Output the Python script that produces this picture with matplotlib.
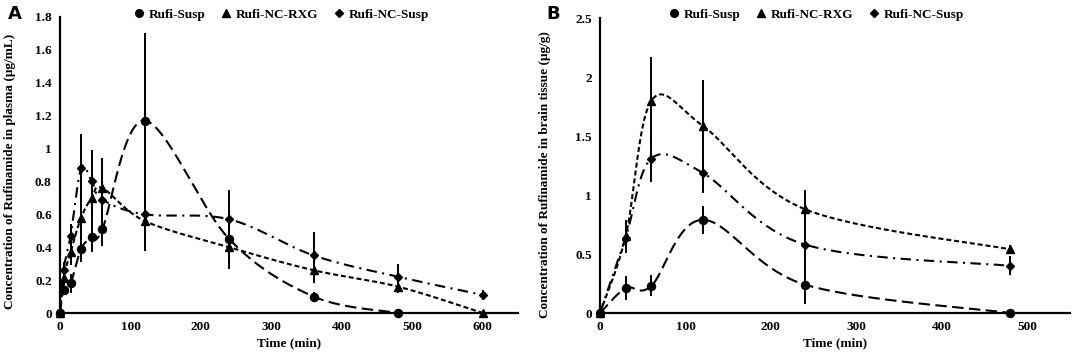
import numpy as np
import matplotlib
matplotlib.use("Agg")
import matplotlib.pyplot as plt
from matplotlib.lines import Line2D

# ---------------- data ----------------
series_names = ["Rufi-Susp", "Rufi-NC-RXG", "Rufi-NC-Susp"]

# Panel A: plasma
a_susp_t = [0, 5, 15, 30, 45, 60, 120, 240, 360, 480]
a_susp_y = [0, 0.14, 0.18, 0.39, 0.46, 0.51, 1.17, 0.45, 0.10, 0]
a_susp_e = [0, 0.03, 0.06, 0.08, 0.09, 0.10, 0.53, 0.18, 0.03, 0]

a_rxg_t = [0, 5, 15, 30, 45, 60, 120, 240, 360, 480, 600]
a_rxg_y = [0, 0.21, 0.37, 0.58, 0.70, 0.76, 0.56, 0.40, 0.26, 0.16, 0]
a_rxg_e = [0, 0.05, 0.08, 0.20, 0.15, 0.18, 0.18, 0.10, 0.08, 0.04, 0]

a_ncs_t = [0, 5, 15, 30, 45, 60, 120, 240, 360, 480, 600]
a_ncs_y = [0, 0.26, 0.47, 0.88, 0.80, 0.69, 0.60, 0.57, 0.35, 0.22, 0.11]
a_ncs_e = [0, 0.05, 0.07, 0.21, 0.19, 0.15, 0.15, 0.18, 0.14, 0.08, 0.03]

# Panel B: brain tissue
b_t = [0, 30, 60, 120, 240, 480]
b_susp_y = [0, 0.21, 0.23, 0.79, 0.24, 0]
b_susp_e = [0, 0.10, 0.09, 0.12, 0.16, 0]
b_rxg_y = [0, 0.65, 1.80, 1.59, 0.88, 0.54]
b_rxg_e = [0, 0.14, 0.37, 0.39, 0.16, 0.04]
b_ncs_y = [0, 0.64, 1.31, 1.19, 0.58, 0.40]
b_ncs_e = [0, 0.10, 0.20, 0.17, 0.20, 0.08]

a_yticks = [0, 0.2, 0.4, 0.6, 0.8, 1, 1.2, 1.4, 1.6, 1.8]
a_xticks = [0, 100, 200, 300, 400, 500, 600]
b_yticks = [0, 0.5, 1, 1.5, 2, 2.5]
b_xticks = [0, 100, 200, 300, 400, 500]

# ---------------- helpers ----------------
def smooth(x, y, n=40):
    """Catmull-Rom style Bezier smoothing through the points (like Excel smoothed lines)."""
    P = np.column_stack([np.asarray(x, float), np.asarray(y, float)])
    m = len(P)
    out = [P[0]]
    s = np.linspace(0, 1, n)[1:]
    for i in range(m - 1):
        p0 = P[i - 1] if i > 0 else P[i]
        p1 = P[i]
        p2 = P[i + 1]
        p3 = P[i + 2] if i + 2 < m else P[i + 1]
        c1 = p1 + (p2 - p0) / 6.0
        c2 = p2 - (p3 - p1) / 6.0
        for u in s:
            b = ((1 - u) ** 3) * p1 + 3 * ((1 - u) ** 2) * u * c1 + 3 * (1 - u) * u ** 2 * c2 + u ** 3 * p2
            out.append(b)
    out = np.array(out)
    return out[:, 0], out[:, 1]

def fmt(v):
    return ("%g" % v)

serif = ["Liberation Serif", "DejaVu Serif"]
plt.rcParams["font.family"] = serif
plt.rcParams["font.weight"] = "bold"
FS = 9.5

LONG = (0, (5.5, 2.6))
SHORT = (0, (2.4, 1.4))
DASHDOT = (0, (5.0, 2.6, 1.0, 2.6))

styles = [
    dict(marker="o", ms=5.8, ls=LONG),
    dict(marker="^", ms=5.8, ls=SHORT),
    dict(marker="D", ms=4.2, ls=DASHDOT),
]

fig = plt.figure(figsize=(10.72, 3.54), dpi=100)
axA = fig.add_axes([60 / 1072, 41 / 354, (518 - 60) / 1072, (313 - 17) / 354])
axB = fig.add_axes([600 / 1072, 41 / 354, (1070 - 600) / 1072, (313 - 18.3) / 354])

def draw(ax, data):
    for (t, y, e), st in zip(data, styles):
        sx, sy = smooth(t, y)
        ax.plot(sx, sy, color="black", lw=1.5, linestyle=st["ls"], zorder=2, clip_on=False,
                dash_capstyle="butt")
        ax.errorbar(t, y, yerr=e, fmt="none", ecolor="black", elinewidth=1.4, capsize=0,
                    zorder=3, clip_on=False)
        ax.plot(t, y, linestyle="none", marker=st["marker"], ms=st["ms"], color="black",
                zorder=4, clip_on=False)

draw(axA, [(a_susp_t, a_susp_y, a_susp_e), (a_rxg_t, a_rxg_y, a_rxg_e), (a_ncs_t, a_ncs_y, a_ncs_e)])
draw(axB, [(b_t, b_susp_y, b_susp_e), (b_t, b_rxg_y, b_rxg_e), (b_t, b_ncs_y, b_ncs_e)])

def style_axes(ax, xlim, ylim, xt, yt, ylabel):
    ax.set_xlim(*xlim)
    ax.set_ylim(*ylim)
    ax.set_xticks(xt)
    ax.set_xticklabels([fmt(v) for v in xt], fontsize=FS, fontweight="bold")
    ax.set_yticks(yt)
    ax.set_yticklabels([fmt(v) for v in yt], fontsize=FS, fontweight="bold")
    ax.tick_params(length=0, pad=6)
    for s in ["top", "right"]:
        ax.spines[s].set_visible(False)
    for s in ["left", "bottom"]:
        ax.spines[s].set_linewidth(1.6)
    ax.set_xlabel("Time (min)", fontsize=FS, fontweight="bold", labelpad=3)
    ax.set_ylabel(ylabel, fontsize=FS, fontweight="bold")

style_axes(axA, (0, 650), (0, 1.8), a_xticks, a_yticks,
           "Concentration of Rufinamide in plasma (\u03bcg/mL)")
style_axes(axB, (0, 550), (0, 2.5), b_xticks, b_yticks,
           "Concentration of Rufinamide in brain tissue (\u03bcg/g)")
axA.yaxis.set_label_coords(-0.096, 0.48)
axB.yaxis.set_label_coords(-0.105, 0.47)

handles = [Line2D([], [], color="black", marker=st["marker"], ms=st["ms"] * 0.95, linestyle="none")
           for st in styles]
for ax, cx in [(axA, 0.263), (axB, 0.762)]:
    ax.legend(handles, series_names, loc="center", bbox_to_anchor=(cx, 0.958),
              bbox_transform=fig.transFigure, ncol=3, frameon=False, handlelength=0.6,
              handletextpad=0.4, columnspacing=1.3,
              prop=dict(family=serif, weight="bold", size=FS))

fig.text(8 / 1072, 1 - 14 / 354, "A", fontsize=13, fontweight="bold", family="DejaVu Sans",
         va="center", ha="left")
fig.text(546 / 1072, 1 - 14 / 354, "B", fontsize=13, fontweight="bold", family="DejaVu Sans",
         va="center", ha="left")

fig.savefig("out.png", dpi=100)
